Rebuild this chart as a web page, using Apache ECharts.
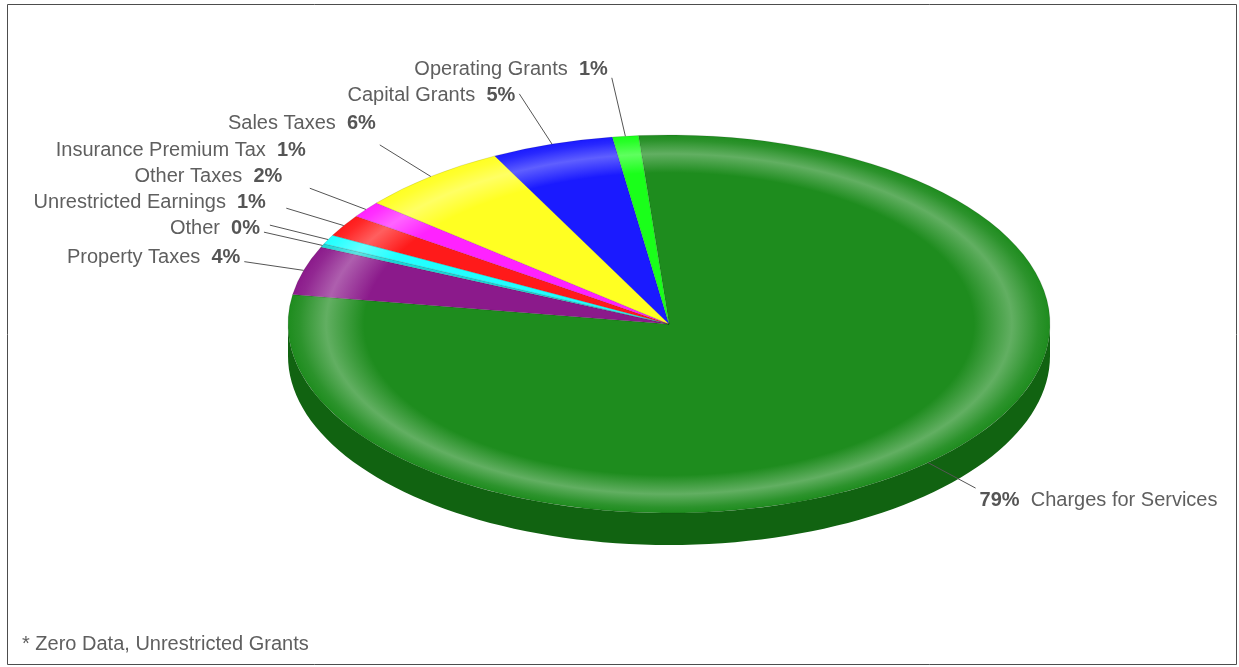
<!DOCTYPE html>
<html>
<head>
<meta charset="utf-8">
<title>Revenue Sources</title>
<script src="https://cdn.jsdelivr.net/npm/echarts@6/dist/echarts.min.js"></script>
<style>
  html, body { margin: 0; padding: 0; background: #fff; }
  #chart { width: 1239px; height: 667px; }
</style>
</head>
<body>
<div id="chart"></div>
<script>
// slices in drawing order, clockwise from the top
const categories = ['Charges for Services', 'Property Taxes', 'Other', 'Unrestricted Earnings',
  'Other Taxes', 'Insurance Premium Tax', 'Sales Taxes', 'Capital Grants', 'Operating Grants']
const values = [79.0, 4.2, 0.3, 0.8, 1.9, 1.4, 6.4, 5.2, 1.1]
const footnote = '* Zero Data, Unrestricted Grants'

const sliceColors = ['#1e8c1e', '#8b1a8b', '#1ad6d6', '#22ffff', '#ff1a1a', '#ff22ff', '#ffff22', '#1a1aff', '#1aff1a']

// layout of the tilted pie
const CX = 669, CY = 324, RX = 381, RY = 189, DEPTH = 32
const START_DEG = -4.6   // first slice starts a bit left of 12 o'clock
const LINE_LEN = 60
const LABEL_RISE = 52
const PITCH = 26.3
const FONT = '"Liberation Sans", Arial, sans-serif'

const rad = d => d * Math.PI / 180

function mix (hex, other, t) {
  const a = parseInt(hex.slice(1), 16)
  const b = parseInt(other.slice(1), 16)
  const ch = (v, s) => (v >> s) & 255
  const c = [16, 8, 0].map(s => Math.round(ch(a, s) + (ch(b, s) - ch(a, s)) * t))
  return 'rgb(' + c.join(',') + ')'
}

function buildSlices () {
  const total = values.reduce((p, v) => p + v, 0)
  let acc = 0
  const list = values.map((v, i) => {
    const a0 = START_DEG + acc / total * 360
    acc += v
    const a1 = START_DEG + acc / total * 360
    const mid = rad((a0 + a1) / 2)
    const ex = CX + RX * Math.sin(mid)
    const ey = CY - RY * Math.cos(mid)
    let ux = RX * Math.sin(mid)
    let uy = -RY * Math.cos(mid)
    const len = Math.sqrt(ux * ux + uy * uy)
    ux /= len
    uy /= len
    const left = Math.sin(mid) < 0
    const l = left ? LINE_LEN : LINE_LEN - 6
    const ax = ex + ux * l
    const ay = ey + uy * l
    return {
      name: categories[i],
      pct: Math.round(v / total * 100),
      color: sliceColors[i],
      a0: a0, a1: a1,
      ex: ex, ey: ey, ax: ax, ay: ay,
      left: left,
      tx: left ? ax - 4 : ax + 4,
      ty: left ? ey + uy * LABEL_RISE - 5 : ay + 12
    }
  })
  // keep the labels from overlapping
  const lefts = list.filter(s => s.left).sort((a, b) => b.ty - a.ty)
  for (let i = 1; i < lefts.length; i++) {
    lefts[i].ty = Math.min(lefts[i].ty, lefts[i - 1].ty - PITCH)
  }
  const rights = list.filter(s => !s.left).sort((a, b) => a.ty - b.ty)
  for (let i = 1; i < rights.length; i++) {
    rights[i].ty = Math.max(rights[i].ty, rights[i - 1].ty + PITCH)
  }
  return list
}

const slices = buildSlices()

// part of the slice rim that faces the viewer (screen angles 0..180)
function sideWall (s) {
  const lo = s.a0 - 90
  const hi = s.a1 - 90
  const parts = []
  for (const off of [-360, 0, 360]) {
    const a = Math.max(lo, off)
    const b = Math.min(hi, off + 180)
    if (b > a) parts.push([a, b])
  }
  return parts.map(([a, b]) => {
    const pts = []
    const n = Math.max(2, Math.ceil((b - a) / 2))
    for (let k = 0; k <= n; k++) {
      const t = rad(a + (b - a) * k / n)
      pts.push([CX + RX * Math.cos(t), CY + RY * Math.sin(t)])
    }
    for (let k = n; k >= 0; k--) {
      const t = rad(a + (b - a) * k / n)
      pts.push([CX + RX * Math.cos(t), CY + RY * Math.sin(t) + DEPTH])
    }
    return {
      type: 'polygon',
      z2: 1,
      shape: { points: pts },
      style: { fill: mix(s.color, '#003000', 0.45) }
    }
  })
}

function renderItem (params) {
  const s = slices[params.dataIndex]
  const children = sideWall(s)

  children.push({
    type: 'sector',
    z2: 10,
    shape: { cx: CX, cy: CY, r0: 0, r: RX, startAngle: rad(s.a0 - 90), endAngle: rad(s.a1 - 90) },
    originX: CX,
    originY: CY,
    scaleY: RY / RX,
    style: {
      fill: {
        type: 'radial', x: CX, y: CY, r: RX, global: true,
        colorStops: [
          { offset: 0, color: s.color },
          { offset: 0.8, color: s.color },
          { offset: 0.9, color: mix(s.color, '#ffffff', 0.3) },
          { offset: 0.97, color: mix(s.color, '#ffffff', 0.06) },
          { offset: 1, color: s.color }
        ]
      },
      stroke: 'rgba(0,0,0,0.25)',
      lineWidth: 0.6,
      strokeNoScale: true
    }
  })

  children.push({
    type: 'polyline',
    z2: 20,
    shape: { points: [[s.ex, s.ey], [s.ax, s.ay]] },
    style: { stroke: '#555', lineWidth: 1, fill: null }
  })

  const txt = s.left
    ? '{n|' + s.name + '}  {p|' + s.pct + '%}'
    : '{p|' + s.pct + '%}  {n|' + s.name + '}'
  children.push({
    type: 'text',
    z2: 30,
    x: s.tx,
    y: s.ty,
    style: {
      text: txt,
      align: s.left ? 'right' : 'left',
      verticalAlign: 'middle',
      fontSize: 20,
      fontFamily: FONT,
      fill: '#5a5a5a',
      rich: {
        n: { fontSize: 20, fontFamily: FONT, fill: '#5f5f5f' },
        p: { fontSize: 20, fontFamily: FONT, fontWeight: 'bold', fill: '#555555' }
      }
    }
  })

  return { type: 'group', children: children }
}

const chart = echarts.init(document.getElementById('chart'))
chart.setOption({
  animation: false,
  backgroundColor: '#ffffff',
  graphic: [
    {
      type: 'rect',
      shape: { x: 7.5, y: 4.5, width: 1229, height: 660 },
      style: { fill: 'none', stroke: '#4d4d4d', lineWidth: 1 }
    },
    {
      type: 'text',
      left: 22,
      top: 634,
      style: { text: footnote, fontSize: 20, fontFamily: FONT, fill: '#5f5f5f' }
    }
  ],
  series: [{
    type: 'custom',
    coordinateSystem: 'none',
    silent: true,
    renderItem: renderItem,
    data: values.map((v, i) => ({ name: categories[i], value: v }))
  }]
})
</script>
</body>
</html>
